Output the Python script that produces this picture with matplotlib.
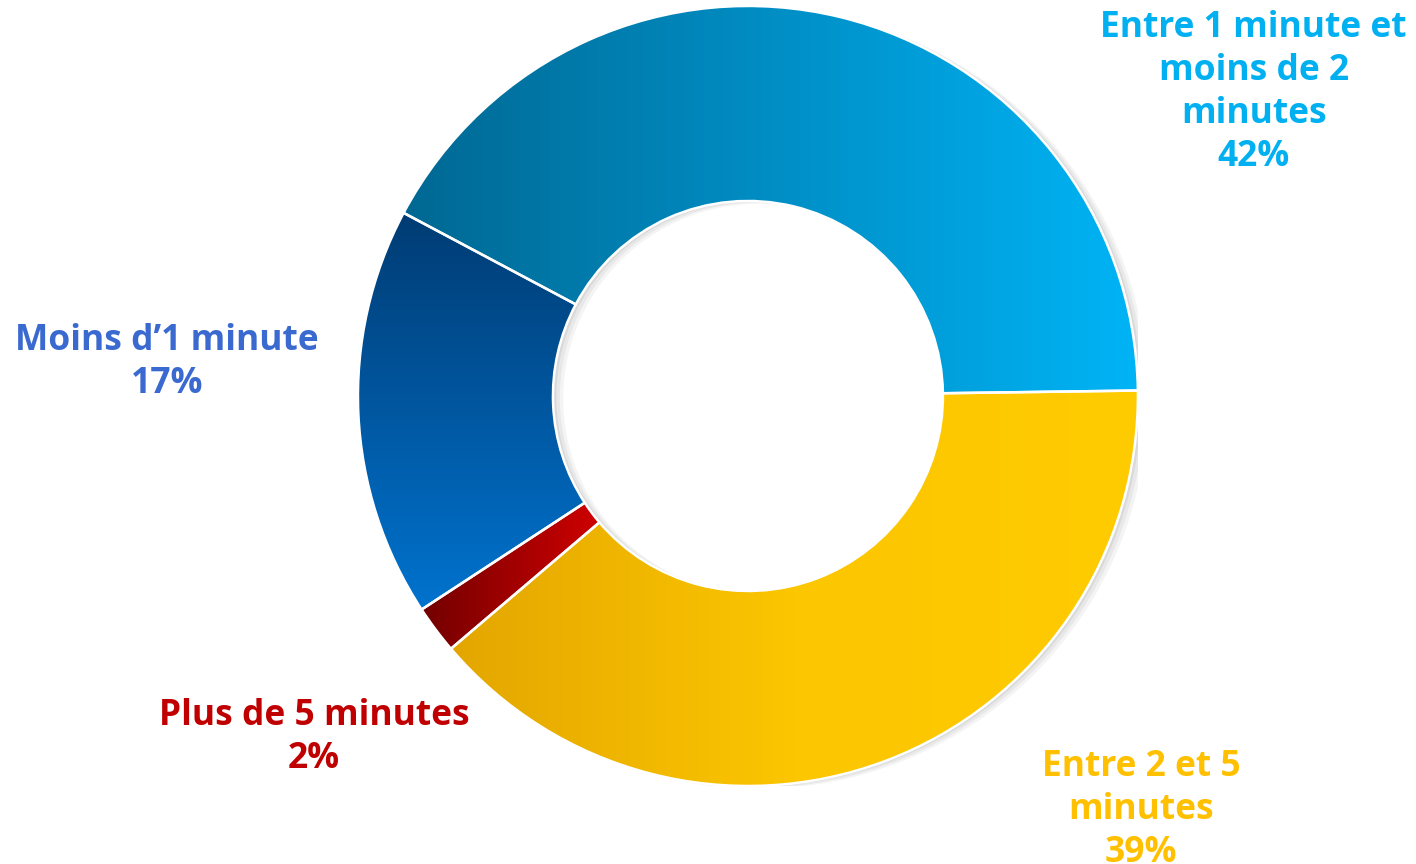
import matplotlib
matplotlib.use("Agg")
import matplotlib.pyplot as plt
import numpy as np
from matplotlib.colors import LinearSegmentedColormap
from matplotlib.patches import Wedge

# temps de réponse, en pourcentage des répondants
LABELS = [
    "Entre 1 minute et\nmoins de 2\nminutes",
    "Entre 2 et 5\nminutes",
    "Plus de 5 minutes",
    "Moins d\u20191 minute",
]
VALUES = [42, 39, 2, 17]

# dégradés (couleurs, sens) et couleur du texte de chaque part
GRADIENTS = [
    (["#006893", "#00B4F6"], "h"),
    (["#E3A600", "#FCC600", "#FFCB00"], "h"),
    (["#730000", "#CE0000"], "h"),
    (["#003C74", "#0073CE"], "v"),
]
TEXT_COLORS = ["#00B0F0", "#FFC000", "#C00000", "#3A6AD0"]
LABEL_POS = [(1.297, 0.778), (1.008, -1.062), (-1.113, -0.875), (-1.49, 0.086)]

fig = plt.figure(figsize=(14.16, 8.64), dpi=100)
ax = fig.add_axes([0.2528, 0.0903, 0.5508, 0.9028])
ax.set_xlim(-1, 1)
ax.set_ylim(-1, 1)
ax.set_aspect("equal")
ax.axis("off")

# ombre portée légère sous l'anneau
for k, a in enumerate([0.35, 0.5, 0.8]):
    off = 0.004 * (3 - k)
    sh = Wedge((off * 2.2, -off * 0.6), 1.0, 0, 360, width=0.5,
               facecolor="#BFBFBF", edgecolor="none", alpha=a * 0.45, zorder=1)
    ax.add_patch(sh)

wedges, _ = ax.pie(VALUES, startangle=152, counterclock=False, radius=1.0,
                   wedgeprops=dict(width=0.5, edgecolor="white", linewidth=1.8),
                   normalize=True)

for w, (cols, mode) in zip(wedges, GRADIENTS):
    cmap = LinearSegmentedColormap.from_list("g", cols)
    bb = w.get_path().get_extents()
    grad = np.linspace(0, 1, 256)
    if mode == "h":
        img = grad[np.newaxis, :]
    else:
        img = grad[:, np.newaxis]
    im = ax.imshow(img, cmap=cmap, extent=[bb.x0, bb.x1, bb.y0, bb.y1],
                   origin="upper", aspect="auto", interpolation="bilinear", zorder=2)
    im.set_clip_path(w)
    w.set_facecolor("none")
    w.set_zorder(3)

ax.set_xlim(-1, 1)
ax.set_ylim(-1, 1)

for lab, val, col, (x, y) in zip(LABELS, VALUES, TEXT_COLORS, LABEL_POS):
    ax.text(x, y, f"{lab}\n{val}%", color=col, fontsize=25.5, fontweight="bold",
            family="Open Sans", ha="center", va="center", linespacing=1.25)

fig.savefig("out.png", dpi=100)
